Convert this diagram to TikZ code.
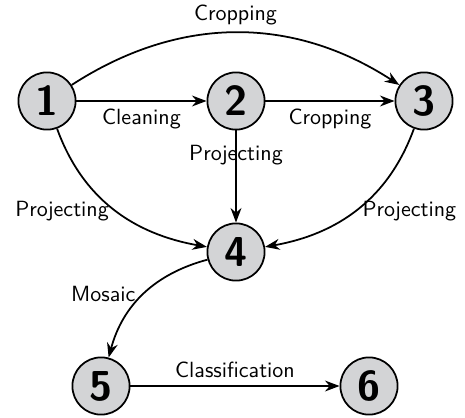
\documentclass[tikz,border=0pt]{standalone}
\usepackage{tikz}
\usetikzlibrary{arrows.meta}
\definecolor{StageGray}{HTML}{D3D4D6}
\tikzset{
  stage/.style={circle, draw, thick, fill=StageGray, minimum size=26pt, inner sep=0pt,
    font=\fontsize{19}{20}\selectfont\sffamily\bfseries},
  lbl/.style={font=\sffamily}
}

\begin{document}
\begin{tikzpicture}[x=0.4545pt, y=0.4545pt, >=Stealth]
  \useasboundingbox (0,0) rectangle (465,417);
  % Processing stages
  \node[stage] (s1) at (47,316) {1};
  \node[stage] (s2) at (236,316) {2};
  \node[stage] (s3) at (424,316) {3};
  \node[stage] (s4) at (236,165) {4};
  \node[stage] (s5) at (101,31) {5};
  \node[stage] (s6) at (369,31) {6};
  % Top row
  \draw[->, thick] (s1) -- (s2) node[midway, below, lbl] {Cleaning};
  \draw[->, thick] (s2) -- (s3) node[midway, below, lbl] {Cropping};
  \draw[->, thick] (s1) to[bend left=33] node[midway, above, lbl] {Cropping} (s3);
  % Projecting into 4
  \draw[->, thick] (s1) to[out=-70, in=170] node[pos=0.52, left, lbl] {Projecting} (s4);
  \draw[->, thick] (s2) -- (s4) node[pos=0.27, lbl] {Projecting};
  \draw[->, thick] (s3) to[out=-110, in=10] node[pos=0.52, right, lbl] {Projecting} (s4);
  % Mosaic and classification
  \draw[->, thick] (s4) to[out=195, in=75] node[midway, left, lbl] {Mosaic} (s5);
  \draw[->, thick] (s5) -- (s6) node[midway, above, lbl] {Classification};
\end{tikzpicture}
\end{document}
